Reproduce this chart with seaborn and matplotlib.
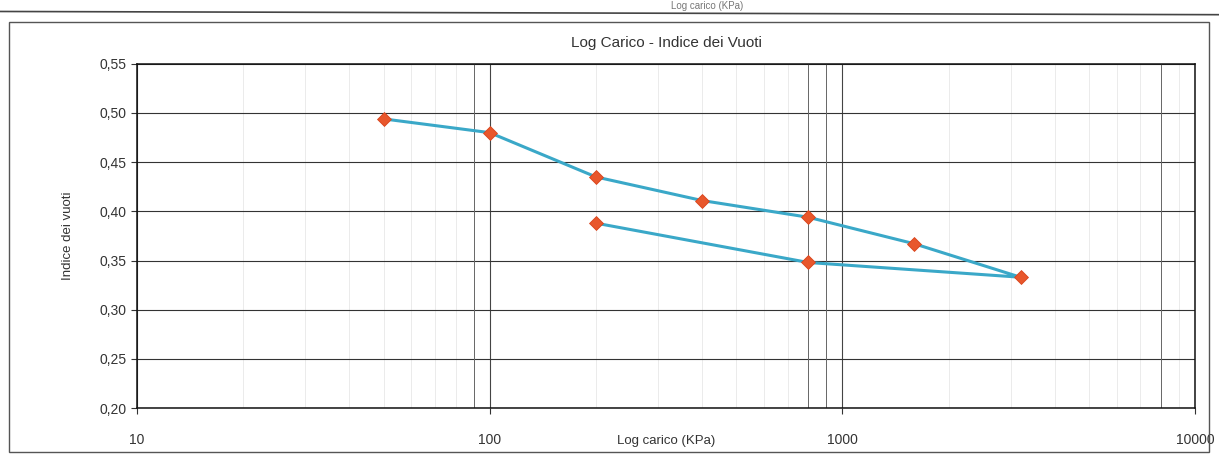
import numpy as np
import pandas as pd
import matplotlib
matplotlib.use('Agg')
import matplotlib.pyplot as plt
from matplotlib.patches import Rectangle
from matplotlib.ticker import FixedLocator, FuncFormatter, LogLocator
import seaborn as sns

# loading / unloading path, in the order the test was run
carico = [50, 100, 200, 400, 800, 1600, 3200, 800, 200]
vuoti = [0.494, 0.480, 0.435, 0.411, 0.394, 0.367, 0.333, 0.348, 0.388]

x_ticks = [10, 100, 1000, 10000]
x_ticklabels = ['10', '100', '1000', '10000']
y_ticks = [0.20, 0.25, 0.30, 0.35, 0.40, 0.45, 0.50, 0.55]
# minor gridlines that came out darker in the scan
dark_minor = [90, 800, 900, 8000]

df = pd.DataFrame({'carico': carico, 'vuoti': vuoti})

sns.set_style('white')
plt.rcParams['font.family'] = ['Liberation Sans', 'DejaVu Sans']

fig = plt.figure(figsize=(12.19, 4.59), dpi=100)
ax = fig.add_axes([0.1124, 0.111, 0.8680, 0.750])

sns.lineplot(data=df, x='carico', y='vuoti', sort=False, estimator=None,
             color='#3aa8c8', linewidth=2.2, ax=ax, zorder=3)
sns.scatterplot(data=df, x='carico', y='vuoti', marker='D', s=50, color='#e8572c', edgecolor='#d9441c',
                linewidth=0.6, ax=ax, zorder=4)

ax.set_xscale('log')
ax.set_xlim(10, 10000)
ax.set_ylim(0.20, 0.55)
ax.xaxis.set_major_locator(FixedLocator(x_ticks))
ax.xaxis.set_major_formatter(FuncFormatter(lambda v, p: x_ticklabels[x_ticks.index(int(round(v)))] if int(round(v)) in x_ticks else ''))
ax.xaxis.set_minor_locator(LogLocator(base=10, subs=np.arange(2, 10)))
ax.xaxis.set_minor_formatter(FuncFormatter(lambda v, p: ''))
ax.yaxis.set_major_locator(FixedLocator(y_ticks))
ax.yaxis.set_major_formatter(FuncFormatter(lambda v, p: f'{v:.2f}'.replace('.', ',')))

ax.grid(axis='y', which='major', color='#333333', linewidth=0.8)
ax.grid(axis='x', which='major', color='#444444', linewidth=0.8)
ax.grid(axis='x', which='minor', color='#ebebeb', linewidth=0.7)
for v in dark_minor:
    ax.axvline(v, color='#666666', linewidth=0.7, zorder=1)

for s in ax.spines.values():
    s.set_color('#111111')
    s.set_linewidth(1.1)
ax.tick_params(axis='both', which='major', labelsize=10, colors='#333333', length=4, direction='out', bottom=True, left=True)
ax.tick_params(axis='x', which='minor', length=0)
ax.tick_params(axis='x', pad=14)

ax.set_xlabel('Log carico (KPa)', fontsize=9.5, color='#333333', labelpad=-9)
ax.set_ylabel('Indice dei vuoti', fontsize=9.5, color='#333333', labelpad=18)
ax.set_title('Log Carico - Indice dei Vuoti', fontsize=11, color='#333333', pad=12)

# outer chart frame and the cut edge of the page above
fig.patches.append(Rectangle((0.007, 0.015), 0.985, 0.937, transform=fig.transFigure,
                             fill=False, edgecolor='#555555', linewidth=1.0))
fig.add_artist(plt.Line2D([0, 1], [0.975, 0.968], transform=fig.transFigure, color='#444444', linewidth=1.2))
fig.text(0.58, 0.997, 'Log carico (KPa)', fontsize=7, color='#777777', ha='center', va='top')

fig.savefig('out.png', dpi=100, facecolor='white')
